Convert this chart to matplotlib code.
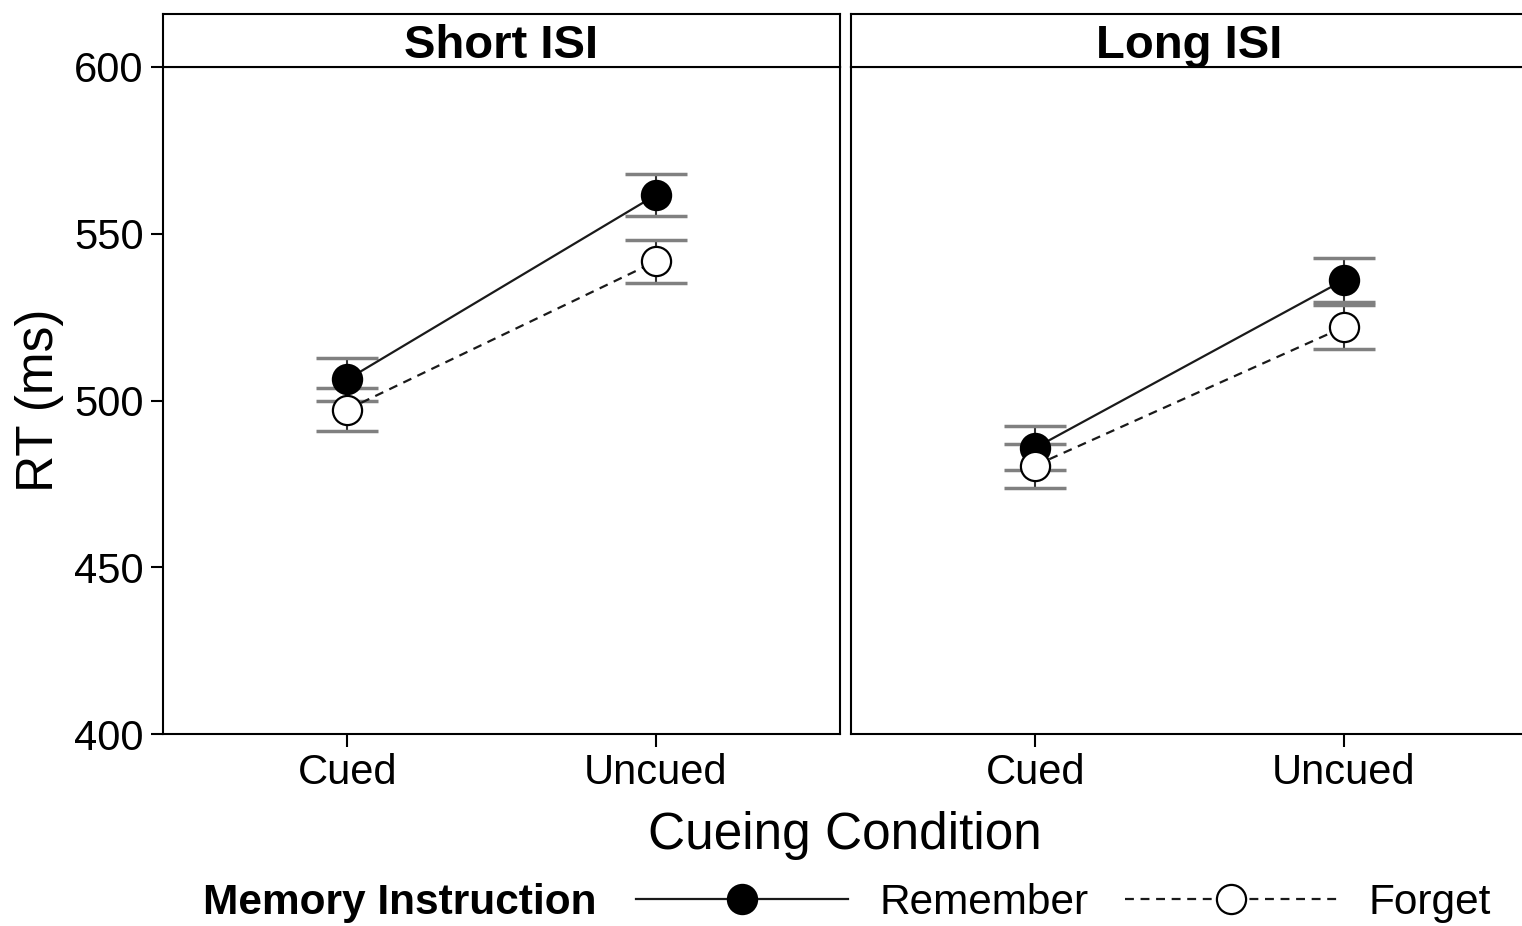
import matplotlib.pyplot as plt
from matplotlib.lines import Line2D

plt.rcParams['font.family'] = ['Liberation Sans', 'DejaVu Sans']

# data
panels = ['Short ISI', 'Long ISI']
conditions = ['Cued', 'Uncued']
remember = {'Short ISI': [506.3, 561.6], 'Long ISI': [485.8, 536.1]}
forget = {'Short ISI': [497.3, 541.7], 'Long ISI': [480.5, 522.0]}
remember_se = {'Short ISI': [6.4, 6.4], 'Long ISI': [6.6, 6.5]}
forget_se = {'Short ISI': [6.4, 6.4], 'Long ISI': [6.6, 6.6]}
yticks = [400, 450, 500, 550, 600]

W, H = 1522, 926
fig = plt.figure(figsize=(W / 100, H / 100), dpi=100)

def fx(px):
    return px / W

def fy(py):
    return 1 - py / H

panel_w = 677
lefts = [163, 851]
top, bottom, strip_top = 67, 734, 14

x = [1, 2]
for i, name in enumerate(panels):
    ax = fig.add_axes([fx(lefts[i]), fy(bottom), fx(panel_w), fy(top) - fy(bottom)])
    for series, se, ls, fc in [(remember, remember_se, '-', 'black'),
                               (forget, forget_se, (0, (4, 3)), 'white')]:
        eb = ax.errorbar(x, series[name], yerr=se[name], fmt='none', ecolor='#333333',
                         elinewidth=1.5, capsize=22, capthick=2.5, zorder=2)
        for cl in eb[1]:
            cl.set_markeredgecolor('#808080')
        ax.plot(x, series[name], linestyle=ls, color='#1a1a1a', lw=1.6, zorder=3)
        ax.plot(x, series[name], linestyle='none', marker='o', ms=21, mfc=fc,
                mec='black', mew=1.6, zorder=4)
    ax.set_xlim(0.403, 2.597)
    ax.set_ylim(400, 600)
    ax.set_xticks(x)
    ax.set_xticklabels(conditions)
    ax.set_yticks(yticks)
    for s in ax.spines.values():
        s.set_linewidth(1.5)
        s.set_color('black')
    ax.tick_params(labelsize=30, length=9, width=1.5, color='black', pad=5)
    if i == 1:
        ax.tick_params(axis='y', left=False, labelleft=False)

    # facet strip
    sax = fig.add_axes([fx(lefts[i]), fy(top), fx(panel_w), fy(strip_top) - fy(top)])
    sax.set_xticks([])
    sax.set_yticks([])
    for s in sax.spines.values():
        s.set_linewidth(1.5)
    sax.text(0.5, 0.4, name, ha='center', va='center', fontsize=34, fontweight='bold',
             transform=sax.transAxes)

fig.text(fx(40), fy(400), 'RT (ms)', rotation=90, ha='center', va='center', fontsize=37)
fig.text(fx(845), fy(836), 'Cueing Condition', ha='center', va='center', fontsize=37)

# legend
fig.text(fx(203), fy(903), 'Memory Instruction', ha='left', va='center',
         fontsize=30.5, fontweight='bold')
handles = [
    Line2D([], [], color='#1a1a1a', lw=1.6, ls='-', marker='o', ms=21, mfc='black',
           mec='black', mew=1.6),
    Line2D([], [], color='#1a1a1a', lw=1.6, ls=(0, (4, 3)), marker='o', ms=21,
           mfc='white', mec='black', mew=1.6),
]
fig.legend(handles, ['Remember', 'Forget'], loc='center left',
           bbox_to_anchor=(fx(636), fy(903)), ncol=2, frameon=False, fontsize=30.5,
           handlelength=5.0, handletextpad=0.75, columnspacing=0.85, borderpad=0,
           borderaxespad=0, numpoints=1)

fig.savefig('out.png', dpi=100)
